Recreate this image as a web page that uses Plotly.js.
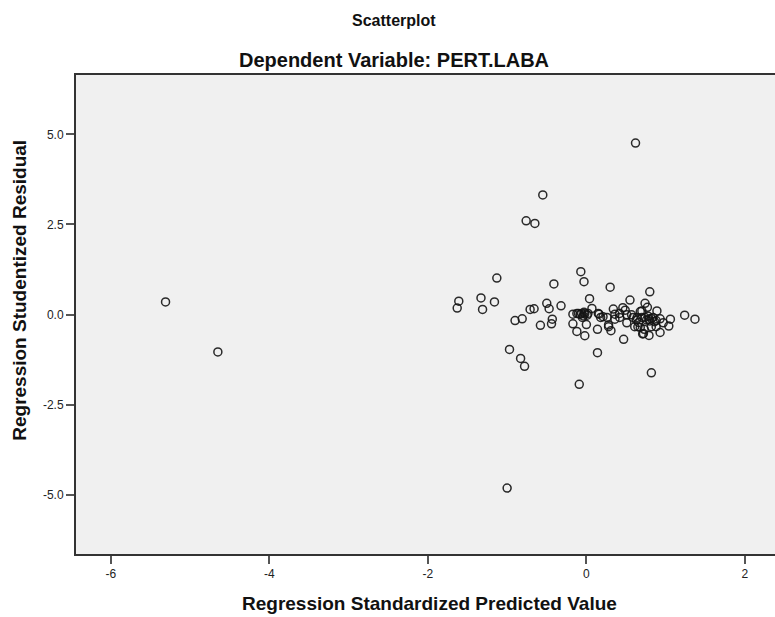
<!DOCTYPE html>
<html>
<head>
<meta charset="utf-8">
<script src="https://cdn.plot.ly/plotly-3.0.1.min.js"></script>
<style>html,body{margin:0;padding:0;background:#fff;}#chart{width:775px;height:617px;}</style>
</head>
<body>
<div id="chart"></div>
<script>
// Regression Standardized Predicted Value
const predictedValues = [
  -5.31, -4.65, 0.62, -0.55, -0.76, -0.65, -1.00, -0.09, 0.82, 0.14, -0.97, -0.83, -0.78,
  -1.13, -1.61, -1.63, -1.33, -1.31, -1.16, -0.41, -0.90, -0.81, -0.71, -0.66, -0.50, -0.47, -0.32, -0.43, -0.44, -0.58,
  -0.07, -0.03, 0.30, 0.04, -0.17, -0.17, -0.12, -0.02, 0.00, 0.14, 0.28, 0.31, 0.07, 0.15, 0.18, 0.26, 0.36, 0.42, 0.34, 0.46, 0.49, 0.21, 0.16, 0.36, 0.42, 0.47, 0.51, 0.28,
  -0.10, -0.06, -0.04, -0.08, -0.02, -0.05, 0.01, -0.03, 0.02, -0.12,
  0.55, 0.74, 0.77, 0.80, 0.89, 0.70, 0.68, 0.51, 0.57, 0.59, 0.63, 0.64, 0.70, 0.76, 0.74, 0.79, 0.82, 0.84, 0.88, 0.93, 0.97, 1.06, 1.04, 1.24, 1.37,
  0.61, 0.65, 0.68, 0.73, 0.72, 0.79, 0.82, 0.88, 0.93, 0.71, 0.78, 0.80, 0.86, 0.66
];
// Regression Studentized Residual
const studentizedResiduals = [
  0.35, -1.04, 4.76, 3.32, 2.60, 2.53, -4.82, -1.94, -1.62, -1.06, -0.97, -1.22, -1.44,
  1.01, 0.37, 0.18, 0.46, 0.14, 0.35, 0.85, -0.17, -0.12, 0.14, 0.16, 0.31, 0.16, 0.24, -0.13, -0.26, -0.30,
  1.19, 0.91, 0.76, 0.44, 0.01, -0.26, -0.47, -0.59, -0.28, -0.41, -0.34, -0.45, 0.17, 0.03, -0.08, -0.08, -0.13, 0.03, 0.15, 0.19, 0.12, -0.06, 0.01, 0.01, -0.08, -0.69, -0.23, -0.29,
  0.03, 0.03, -0.04, 0.00, 0.02, -0.08, -0.02, 0.06, 0.03, 0.03,
  0.40, 0.31, 0.20, 0.63, 0.10, 0.10, 0.08, -0.01, -0.01, -0.08, -0.15, -0.08, -0.08, -0.15, -0.08, -0.13, -0.11, -0.08, -0.17, -0.12, -0.23, -0.13, -0.32, -0.02, -0.13,
  -0.34, -0.34, -0.36, -0.41, -0.53, -0.58, -0.34, -0.34, -0.50, -0.54, -0.05, -0.18, -0.20, -0.22
];
const xTickVals = [-6, -4, -2, 0, 2];
const xTickText = ['-6', '-4', '-2', '0', '2'];
const yTickVals = [-5, -2.5, 0, 2.5, 5];
const yTickText = ['-5.0', '-2.5', '0.0', '2.5', '5.0'];

const FONT = '"Liberation Sans", Arial, sans-serif';

const trace = {
  x: predictedValues,
  y: studentizedResiduals,
  type: 'scatter',
  mode: 'markers',
  marker: {
    symbol: 'circle-open',
    size: 8,
    color: 'rgba(20,20,20,0.9)',
    line: { width: 1.5, color: 'rgba(20,20,20,0.9)' }
  },
  hoverinfo: 'x+y'
};

const layout = {
  width: 775,
  height: 617,
  margin: { l: 76, r: 0, t: 75, b: 63, pad: 0 },
  paper_bgcolor: '#ffffff',
  plot_bgcolor: '#f0f0f0',
  showlegend: false,
  font: { family: FONT, color: '#222' },
  xaxis: {
    range: [-6.44, 2.38],
    tickmode: 'array',
    tickvals: xTickVals,
    ticktext: xTickText,
    ticks: 'outside',
    ticklen: 8,
    tickwidth: 2,
    tickcolor: '#555',
    tickfont: { family: FONT, size: 12, color: '#222' },
    showgrid: false,
    zeroline: false,
    showline: true,
    linecolor: '#333',
    linewidth: 2,
    mirror: true
  },
  yaxis: {
    range: [-6.65, 6.65],
    tickmode: 'array',
    tickvals: yTickVals,
    ticktext: yTickText,
    ticks: 'outside',
    ticklen: 8,
    tickwidth: 2,
    tickcolor: '#555',
    tickfont: { family: FONT, size: 12, color: '#222' },
    showgrid: false,
    zeroline: false,
    showline: true,
    linecolor: '#333',
    linewidth: 2,
    mirror: false
  },
  annotations: [
    { text: '<b>Scatterplot</b>', xref: 'paper', yref: 'paper', x: 0.455, y: 1.113, xanchor: 'center', yanchor: 'middle', showarrow: false, font: { family: FONT, size: 16, color: '#111' } },
    { text: '<b>Dependent Variable: PERT.LABA</b>', xref: 'paper', yref: 'paper', x: 0.455, y: 1.031, xanchor: 'center', yanchor: 'middle', showarrow: false, font: { family: FONT, size: 20, color: '#111' } },
    { text: '<b>Regression Standardized Predicted Value</b>', xref: 'paper', yref: 'paper', x: 0.506, y: -0.104, xanchor: 'center', yanchor: 'middle', showarrow: false, font: { family: FONT, size: 19, color: '#111' } },
    { text: '<b>Regression Studentized Residual</b>', xref: 'paper', yref: 'paper', x: -0.082, y: 0.551, xanchor: 'center', yanchor: 'middle', textangle: -90, showarrow: false, font: { family: FONT, size: 19, color: '#111' } }
  ]
};

Plotly.newPlot('chart', [trace], layout, { displayModeBar: false, staticPlot: true });
</script>
</body>
</html>
